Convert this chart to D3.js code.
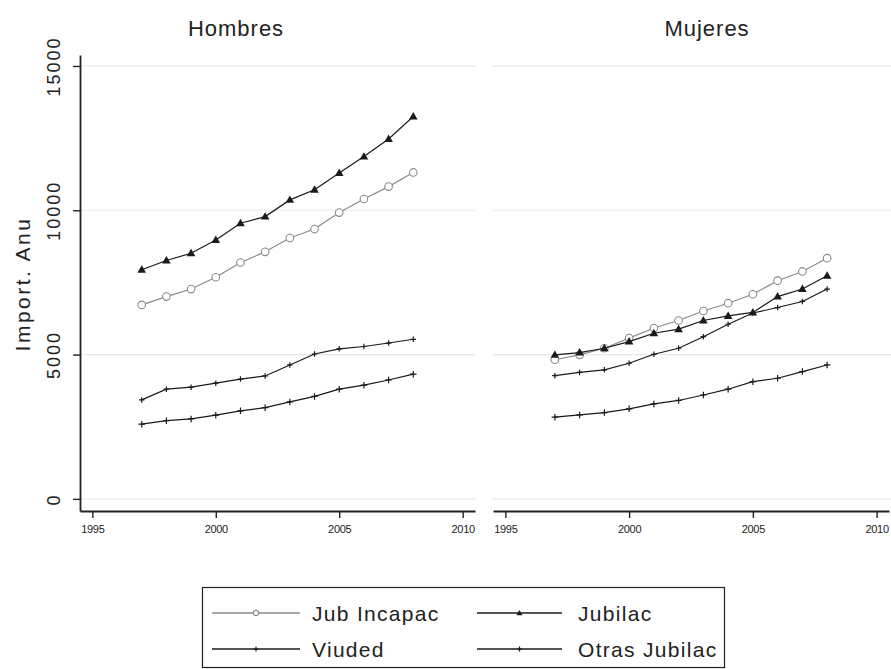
<!DOCTYPE html>
<html>
<head>
<meta charset="utf-8">
<script src="https://cdn.jsdelivr.net/npm/d3@7"></script>
<style>
  html, body { margin: 0; padding: 0; background: #fff; }
  svg { display: block; }
  text { font-family: "Liberation Sans", Arial, sans-serif; fill: #222; }
</style>
</head>
<body>
<svg id="chart" width="891" height="669"></svg>
<script>
// Annual amounts by pension type, 1997-2008
const years = [1997, 1998, 1999, 2000, 2001, 2002, 2003, 2004, 2005, 2006, 2007, 2008];

const menJubIncapac   = [6720, 7010, 7270, 7680, 8190, 8560, 9040, 9350, 9920, 10390, 10820, 11310];
const menJubilac      = [7940, 8260, 8510, 8970, 9550, 9780, 10360, 10710, 11290, 11860, 12470, 13250];
const menViuded       = [3430, 3800, 3870, 4010, 4150, 4260, 4640, 5020, 5200, 5280, 5400, 5530];
const menOtras        = [2590, 2710, 2770, 2900, 3050, 3160, 3360, 3550, 3800, 3940, 4120, 4320];

const womenJubIncapac = [4820, 4990, 5220, 5570, 5920, 6180, 6510, 6780, 7090, 7560, 7880, 8340];
const womenJubilac    = [4990, 5070, 5220, 5450, 5740, 5880, 6180, 6340, 6460, 7010, 7270, 7730];
const womenViuded     = [4270, 4380, 4470, 4700, 5010, 5220, 5620, 6050, 6440, 6630, 6840, 7270];
const womenOtras      = [2830, 2910, 2990, 3120, 3290, 3410, 3600, 3800, 4060, 4180, 4410, 4640];

const panelTitles = ["Hombres", "Mujeres"];
const seriesNames = ["Jub Incapac", "Jubilac", "Viuded", "Otras Jubilac"];
const xTicks = [1995, 2000, 2005, 2010];
const yTicks = [0, 5000, 10000, 15000];
const yTitle = "Import. Anu";

const svg = d3.select("#chart");

// series styles: line colour and marker kind
const styles = {
  "Jub Incapac":   { color: "#8a8a8a", marker: "circle" },
  "Jubilac":       { color: "#1a1a1a", marker: "triangle" },
  "Viuded":        { color: "#1a1a1a", marker: "plus", size: 5.5 },
  "Otras Jubilac": { color: "#1a1a1a", marker: "plus", size: 6.5 }
};

const panels = [
  { title: panelTitles[0], x0: 80,  x1: 475, titleX: 236, axisY: true,
    data: [menJubIncapac, menJubilac, menViuded, menOtras] },
  { title: panelTitles[1], x0: 493, x1: 889, titleX: 707, axisY: false,
    data: [womenJubIncapac, womenJubilac, womenViuded, womenOtras] }
];

const y = d3.scaleLinear().domain([-420, 15380]).range([511, 55]);

function drawMarker(g, kind, cx, cy, color, size) {
  if (kind === "circle") {
    g.append("circle").attr("cx", cx).attr("cy", cy).attr("r", size || 3.8)
      .attr("fill", "#fff").attr("stroke", color).attr("stroke-width", 1.1);
  } else if (kind === "triangle") {
    g.append("path")
      .attr("d", d3.symbol().type(d3.symbolTriangle).size(size || 32)())
      .attr("transform", `translate(${cx},${cy + 0.5})`)
      .attr("fill", color);
  } else {
    const h = (size || 6) / 2;
    g.append("path")
      .attr("d", `M${cx - h},${cy}H${cx + h}M${cx},${cy - h}V${cy + h}`)
      .attr("stroke", color).attr("stroke-width", 1.2).attr("fill", "none");
  }
}

panels.forEach(p => {
  const x = d3.scaleLinear().domain([1994.5, 2010.5]).range([p.x0, p.x1]);
  const g = svg.append("g");

  // light horizontal gridlines
  g.selectAll("line.grid").data(yTicks).join("line")
    .attr("x1", p.x0).attr("x2", p.x1 + (p.axisY ? 0 : 2))
    .attr("y1", d => y(d)).attr("y2", d => y(d))
    .attr("stroke", "#e3ecec").attr("stroke-width", 1.2);

  // series lines and markers
  p.data.forEach((vals, i) => {
    const name = seriesNames[i];
    const st = styles[name];
    const pts = years.map((yr, k) => [x(yr), y(vals[k])]);
    g.append("path")
      .attr("d", d3.line()(pts))
      .attr("fill", "none")
      .attr("stroke", st.color)
      .attr("stroke-width", 1.2);
    pts.forEach(([cx, cy]) => drawMarker(g, st.marker, cx, cy, st.color, st.size));
  });

  // x axis
  const xa = g.append("g").attr("transform", "translate(0,511)")
    .call(d3.axisBottom(x).tickValues(xTicks).tickFormat(d3.format("d"))
      .tickSize(7).tickSizeOuter(0).tickPadding(7));
  xa.select(".domain").attr("stroke", "#222").attr("stroke-width", 1.8);
  xa.selectAll(".tick line").attr("stroke", "#222").attr("stroke-width", 1.4);
  xa.selectAll(".tick text").attr("font-size", 11).attr("fill", "#111")
    .attr("font-family", "Liberation Sans, Arial, sans-serif")
    .style("letter-spacing", "-0.3px");

  // y axis (left panel only)
  if (p.axisY) {
    const ya = g.append("g").attr("transform", `translate(${p.x0},0)`)
      .call(d3.axisLeft(y).tickValues(yTicks).tickFormat(d3.format("d"))
        .tickSize(7).tickSizeOuter(0));
    ya.select(".domain").attr("stroke", "#222").attr("stroke-width", 1.8);
    ya.selectAll(".tick line").attr("stroke", "#222").attr("stroke-width", 1.4);
    ya.selectAll(".tick text")
      .attr("x", 0).attr("dy", 0).attr("y", 0)
      .attr("transform", "translate(-20,0) rotate(-90)")
      .attr("text-anchor", "middle")
      .attr("font-size", 18).attr("fill", "#222")
      .attr("font-family", "Liberation Sans, Arial, sans-serif")
      .style("letter-spacing", "2px");
  }

  // panel title
  svg.append("text").attr("x", p.titleX).attr("y", 36)
    .attr("text-anchor", "middle").attr("font-size", 22)
    .style("letter-spacing", "1px")
    .text(p.title);
});

// y axis title
svg.append("text")
  .attr("transform", "translate(30,284) rotate(-90)")
  .attr("text-anchor", "middle").attr("font-size", 21)
  .style("letter-spacing", "2.5px")
  .text(yTitle);

// legend
const legend = svg.append("g");
legend.append("rect").attr("x", 202.5).attr("y", 587.5).attr("width", 522).attr("height", 80)
  .attr("fill", "#fff").attr("stroke", "#222").attr("stroke-width", 1.2);

const legendCols = [{ lx0: 212, lx1: 300, tx: 312 }, { lx0: 477, lx1: 562, tx: 578 }];
const legendRows = [613, 649];
seriesNames.forEach((name, i) => {
  const col = legendCols[i % 2];
  const ry = legendRows[Math.floor(i / 2)];
  const st = styles[name];
  legend.append("line").attr("x1", col.lx0).attr("x2", col.lx1)
    .attr("y1", ry).attr("y2", ry).attr("stroke", st.color).attr("stroke-width", 1.3);
  const mx = (col.lx0 + col.lx1) / 2;
  if (st.marker === "circle") drawMarker(legend, "circle", mx, ry, st.color, 2.6);
  else if (st.marker === "triangle") drawMarker(legend, "triangle", mx, ry, st.color, 16);
  else drawMarker(legend, "plus", mx, ry, st.color, 5);
  legend.append("text").attr("x", col.tx).attr("y", ry + 8)
    .attr("font-size", 21).style("letter-spacing", "1.3px")
    .text(name);
});
</script>
</body>
</html>
